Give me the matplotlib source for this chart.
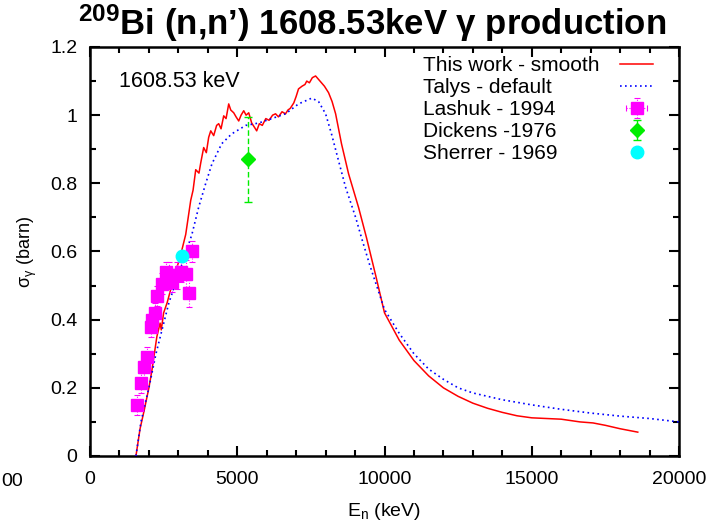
import matplotlib
matplotlib.use("Agg")
import matplotlib.pyplot as plt
from matplotlib.ticker import MultipleLocator
from matplotlib.lines import Line2D

plt.rcParams['font.family'] = ['Liberation Sans', 'DejaVu Sans']
plt.rcParams['mathtext.fontset'] = 'custom'
plt.rcParams['mathtext.rm'] = 'Liberation Sans'
plt.rcParams['mathtext.it'] = 'Liberation Sans:italic'
plt.rcParams['mathtext.bf'] = 'Liberation Sans:bold'

# ---- data ----
this_work_E = [1560, 1700, 1830, 2000, 2100, 2270, 2380, 2420, 2500, 2620, 2745, 2900, 3050,
               3250, 3420, 3500, 3590, 3700, 3760, 3860, 3950, 4030, 4100, 4200, 4300, 4370,
               4450, 4540, 4620, 4710, 4780, 4880, 4960, 5050, 5130, 5220, 5300, 5390, 5490,
               5580, 5660, 5750, 5850, 5970, 6080, 6200, 6300, 6400, 6520, 6640, 6720, 6800,
               6920, 7000, 7080, 7200, 7300, 7360, 7450, 7550, 7660, 7760, 7860, 7960, 8100,
               8220, 8340, 8540, 8780, 9120, 9390, 9700, 10000, 10500, 11000, 11500, 12000,
               12500, 13000, 13500, 14000, 14500, 15000, 15500, 16000, 16640, 17080, 17500,
               18000, 18600]
this_work_s = [0.0, 0.08, 0.13, 0.20, 0.25, 0.35, 0.39, 0.37, 0.42, 0.45, 0.49, 0.54, 0.58,
               0.65, 0.75, 0.78, 0.84, 0.83, 0.86, 0.905, 0.89, 0.935, 0.954, 0.94, 0.97, 0.975,
               0.96, 0.998, 0.99, 1.033, 1.015, 1.007, 0.995, 0.983, 1.0, 1.013, 1.0, 1.007, 0.977,
               0.965, 0.954, 0.975, 0.97, 0.99, 0.985, 1.0, 1.004, 0.995, 1.01, 1.004, 1.015, 1.02,
               1.036, 1.055, 1.077, 1.085, 1.09, 1.10, 1.095, 1.11, 1.115, 1.105, 1.095, 1.085, 1.066,
               1.04, 1.004, 0.916, 0.828, 0.729, 0.64, 0.53, 0.42, 0.34, 0.28, 0.235, 0.20,
               0.175, 0.155, 0.14, 0.128, 0.118, 0.112, 0.11, 0.108, 0.10, 0.097, 0.09,
               0.08, 0.07]

talys_E = [1560, 1730, 2000, 2240, 2680, 3000, 3460, 3690, 3930, 4140, 4470, 4810, 5290, 5730,
           6170, 6640, 7080, 7530, 7760, 8000, 8200, 8440, 8680, 9020, 9220, 9500, 10000, 10500,
           11000, 11500, 12000, 12500, 13000, 14000, 15000, 16000, 17000, 18000, 19000, 20000]
talys_s = [0.0, 0.10, 0.20, 0.30, 0.45, 0.53, 0.65, 0.73, 0.80, 0.857, 0.916, 0.945, 0.97, 0.977,
           0.99, 1.004, 1.033, 1.05, 1.04, 1.004, 0.945, 0.866, 0.788, 0.70, 0.64, 0.56, 0.43, 0.36,
           0.30, 0.255, 0.225, 0.20, 0.185, 0.165, 0.15, 0.137, 0.126, 0.117, 0.11, 0.10]

lashuk_E = [1590, 1730, 1830, 1930, 2070, 2100, 2200, 2270, 2440, 2580, 2680, 2780, 2950, 3080,
            3250, 3360, 3460]
lashuk_s = [0.149, 0.214, 0.26, 0.29, 0.378, 0.40, 0.42, 0.47, 0.506, 0.54, 0.53, 0.51, 0.53,
            0.54, 0.535, 0.477, 0.60]
lashuk_dE = [100] * len(lashuk_E)
lashuk_ds = [0.03, 0.03, 0.03, 0.03, 0.03, 0.03, 0.03, 0.03, 0.03, 0.03, 0.04, 0.03, 0.04,
             0.03, 0.04, 0.04, 0.03]

dickens_E = [5360]
dickens_s = [0.87]
dickens_ds = [0.125]

sherrer_E = [3120]
sherrer_s = [0.588]

legend_labels = ['This work - smooth', 'Talys - default', 'Lashuk - 1994',
                 'Dickens -1976', 'Sherrer - 1969']

# ---- figure ----
W, H = 713, 523
fig = plt.figure(figsize=(W / 100, H / 100), dpi=100)
ax = fig.add_axes([90 / W, 1 - 456 / H, 589 / W, 409 / H])

h1, = ax.plot(this_work_E, this_work_s, color='red', lw=1.1, zorder=3)
h2, = ax.plot(talys_E, talys_s, color='blue', lw=1.2, ls=(0, (1, 2)), zorder=3)

eb = ax.errorbar(lashuk_E, lashuk_s, xerr=lashuk_dE, yerr=lashuk_ds, fmt='s', color='magenta',
                 ms=9, ecolor='magenta', elinewidth=0.8, capsize=2, capthick=0.8, zorder=4)
for c in eb[2]:
    c.set_linestyle(':')

eb2 = ax.errorbar(dickens_E, dickens_s, yerr=dickens_ds, fmt='D', color='#00ee00', ms=7,
                  ecolor='#00ee00', elinewidth=1.0, capsize=3, capthick=1.0, zorder=4)
for c in eb2[2]:
    c.set_linestyle((0, (4, 2)))

h5, = ax.plot(sherrer_E, sherrer_s, 'o', color='cyan', ms=9, ls='none', zorder=5)

ax.set_xlim(0, 20000)
ax.set_ylim(0, 1.2)
ax.xaxis.set_major_locator(MultipleLocator(5000))
ax.xaxis.set_minor_locator(MultipleLocator(1000))
ax.yaxis.set_minor_locator(MultipleLocator(0.1))
ax.set_yticks([0, 0.2, 0.4, 0.6, 0.8, 1.0, 1.2])
ax.set_yticklabels(['0', '0.2', '0.4', '0.6', '0.8', '1', '1.2'])
ax.tick_params(which='both', direction='in', top=True, right=True, width=1.5, labelsize=14)
ax.tick_params(axis='y', pad=9)
ax.tick_params(axis='x', pad=11)
ax.tick_params(which='major', length=7)
ax.tick_params(which='minor', length=4)
for s in ax.spines.values():
    s.set_linewidth(1.8)

ax.set_xlabel('E$_\\mathregular{n}$ (keV)', fontsize=14, labelpad=9)
ax.set_ylabel('σ$_\\mathregular{γ}$ (barn)', fontsize=13, labelpad=8)

ax.text(0.05, 0.915, '1608.53 keV', transform=ax.transAxes, fontsize=15.5, va='center')

# legend: left-aligned labels, handles in a separate column to the right
handles = [h1, h2, eb, eb2, h5]
LFS = 15
ytop = 0.978
LSP = 0.15
blank = [Line2D([], [], ls='none') for _ in handles]
legA = ax.legend(blank, legend_labels, loc='upper left', bbox_to_anchor=((423 - 90) / 589, ytop),
                 frameon=False, fontsize=LFS, handlelength=0, handletextpad=0,
                 labelspacing=LSP, borderaxespad=0, borderpad=0)
ax.add_artist(legA)
legB = ax.legend(handles, [' '] * len(handles), loc='upper left',
                 bbox_to_anchor=((620 - 90) / 589, ytop), frameon=False, fontsize=LFS,
                 handlelength=1.6, handletextpad=0, labelspacing=LSP, borderaxespad=0,
                 borderpad=0)

fig.text(372 / W, 1 - 35 / H, "$\\mathbf{^{209}}$Bi (n,n’) 1608.53keV $\\mathregular{γ}$ production",
         ha='center', va='baseline', fontsize=25, fontweight='bold')

fig.text(1 / W, 1 - 482 / H, '00', ha='left', va='center', fontsize=14)

fig.savefig('out.png', dpi=100)
